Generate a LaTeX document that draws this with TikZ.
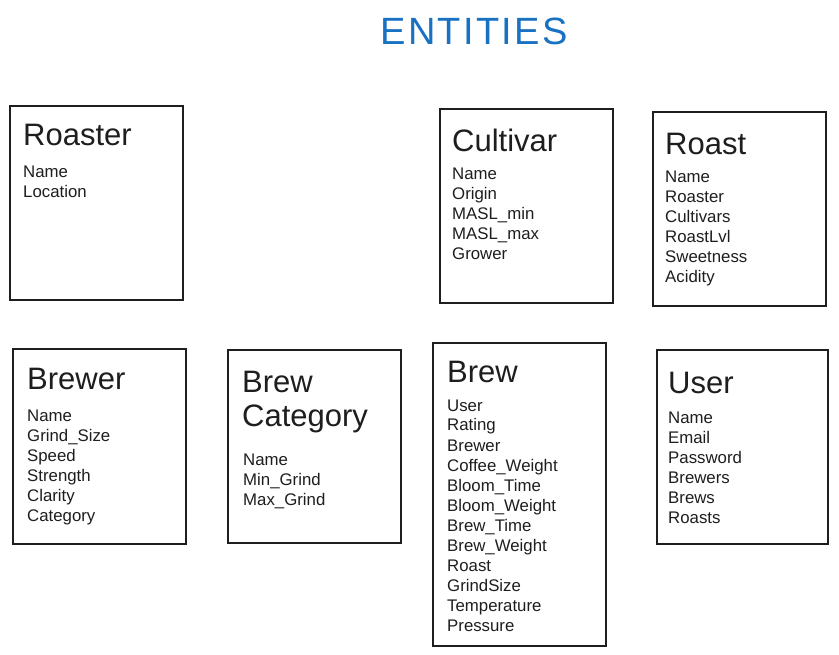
\documentclass[tikz,border=0pt]{standalone}
\usepackage{fontspec}
\setmainfont{Liberation Sans}
\usetikzlibrary{fit}
\definecolor{ink}{HTML}{1E1E1E}
\definecolor{titleblue}{HTML}{1971C2}
\begin{document}
\begin{tikzpicture}[x=1pt,y=-1pt,
  entity/.style={draw=ink, line width=1.3pt, fill=white, inner sep=0pt},
  ename/.style={anchor=base west, inner sep=0pt, font=\fontsize{31}{36}\selectfont, text=ink},
  eattr/.style={anchor=base west, inner sep=0pt, font=\fontsize{16.8}{20}\selectfont, text=ink}]
\useasboundingbox (0,0) rectangle (839,655);
\node[inner sep=0pt, font=\fontsize{38}{44}\selectfont\addfontfeature{LetterSpace=6}, text=titleblue] (title) at (474,31) {ENTITIES};
% boxes
\node[entity, fit={(10,106) (183,300)}] (roaster) {};
\node[entity, fit={(440,109) (613,303)}] (cultivar) {};
\node[entity, fit={(653,112) (826,306)}] (roast) {};
\node[entity, fit={(13,349) (186,544)}] (brewer) {};
\node[entity, fit={(228,350) (401,543)}] (brewcat) {};
\node[entity, fit={(433,343) (606,646)}] (brew) {};
\node[entity, fit={(657,350) (828,544)}] (user) {};
% Roaster
\node[ename] (roaster-t) at (23,146) {Roaster};
\foreach \t [count=\i] in {Name,Location}
  \node[eattr] (roaster-\i) at ({23},{178+20*(\i-1)}) {\t};
% Cultivar
\node[ename] (cultivar-t) at (452,152) {Cultivar};
\foreach \t [count=\i] in {Name,Origin,MASL\_min,MASL\_max,Grower}
  \node[eattr] (cultivar-\i) at ({452},{180+20*(\i-1)}) {\t};
% Roast
\node[ename] (roast-t) at (665,155) {Roast};
\foreach \t [count=\i] in {Name,Roaster,Cultivars,RoastLvl,Sweetness,Acidity}
  \node[eattr] (roast-\i) at ({665},{183+20*(\i-1)}) {\t};
% Brewer
\node[ename] (brewer-t) at (27,390) {Brewer};
\foreach \t [count=\i] in {Name,Grind\_Size,Speed,Strength,Clarity,Category}
  \node[eattr] (brewer-\i) at ({27},{421+20*(\i-1)}) {\t};
% Brew Category
\node[ename] (brewcat-t1) at (242,392) {Brew};
\node[ename] (brewcat-t2) at (242,427) {Category};
\foreach \t [count=\i] in {Name,Min\_Grind,Max\_Grind}
  \node[eattr] (brewcat-\i) at ({243},{465+20*(\i-1)}) {\t};
% Brew
\node[ename] (brew-t) at (447,382) {Brew};
\foreach \t [count=\i] in {User,Rating,Brewer,Coffee\_Weight,Bloom\_Time,Bloom\_Weight,Brew\_Time,Brew\_Weight,Roast,GrindSize,Temperature,Pressure}
  \node[eattr] (brew-\i) at ({447},{411+20*(\i-1)}) {\t};
% User
\node[ename] (user-t) at (668,393) {User};
\foreach \t [count=\i] in {Name,Email,Password,Brewers,Brews,Roasts}
  \node[eattr] (user-\i) at ({668},{423+20*(\i-1)}) {\t};
\end{tikzpicture}
\end{document}
